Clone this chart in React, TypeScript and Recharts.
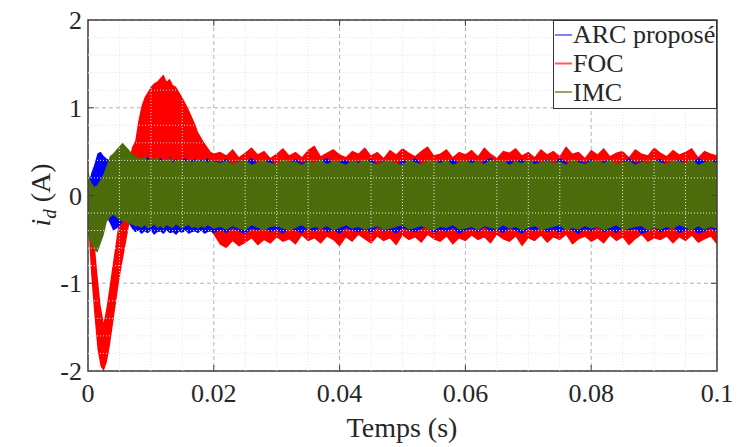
import {
  Area,
  CartesianGrid,
  ComposedChart,
  Label,
  ReferenceArea,
  ReferenceLine,
  XAxis,
  YAxis,
} from "recharts";

// time samples (s): 0.5 ms during the transient, 1 ms afterwards
const tTransient = [
  0, 0.0005, 0.001, 0.0015, 0.002, 0.0025, 0.003, 0.0035, 0.004, 0.0045, 0.005,
  0.0055, 0.006, 0.0065, 0.007, 0.0075, 0.008, 0.0085, 0.009, 0.0095, 0.01,
  0.0105, 0.011, 0.0115, 0.012, 0.0125, 0.013, 0.0135, 0.014, 0.0145, 0.015,
  0.0155, 0.016, 0.0165, 0.017, 0.0175, 0.018, 0.0185, 0.019, 0.0195, 0.02,
];
const tSteady = [
  0.021, 0.022, 0.023, 0.024, 0.025, 0.026, 0.027, 0.028, 0.029, 0.03,
  0.031, 0.032, 0.033, 0.034, 0.035, 0.036, 0.037, 0.038, 0.039, 0.04,
  0.041, 0.042, 0.043, 0.044, 0.045, 0.046, 0.047, 0.048, 0.049, 0.05,
  0.051, 0.052, 0.053, 0.054, 0.055, 0.056, 0.057, 0.058, 0.059, 0.06,
  0.061, 0.062, 0.063, 0.064, 0.065, 0.066, 0.067, 0.068, 0.069, 0.07,
  0.071, 0.072, 0.073, 0.074, 0.075, 0.076, 0.077, 0.078, 0.079, 0.08,
  0.081, 0.082, 0.083, 0.084, 0.085, 0.086, 0.087, 0.088, 0.089, 0.09,
  0.091, 0.092, 0.093, 0.094, 0.095, 0.096, 0.097, 0.098, 0.099, 0.1,
];

// envelope (min / max) of each noisy i_d trace
const arcLo = [
  -0.1, -0.2, -0.2, -0.15, -0.12, -0.15, -0.25, -0.32, -0.4, -0.38, -0.35, -0.3,
  -0.28, -0.32, -0.38, -0.42, -0.4, -0.44, -0.41, -0.43, -0.4, -0.45, -0.42,
  -0.41, -0.44, -0.4, -0.43, -0.42, -0.45, -0.41, -0.43, -0.4, -0.44, -0.42,
  -0.41, -0.43, -0.4, -0.44, -0.42, -0.41, -0.43,
  -0.39, -0.43, -0.37, -0.41, -0.44, -0.38, -0.4, -0.36, -0.42, -0.39,
  -0.44, -0.37, -0.4, -0.43, -0.38, -0.41, -0.36, -0.42, -0.39, -0.44,
  -0.37, -0.4, -0.42, -0.38, -0.43, -0.36, -0.41, -0.39, -0.44, -0.37,
  -0.4, -0.42, -0.38, -0.36, -0.43, -0.39, -0.41, -0.37, -0.44, -0.4,
  -0.38, -0.42, -0.36, -0.41, -0.39, -0.43, -0.37, -0.4, -0.44, -0.38,
  -0.41, -0.36, -0.42, -0.39, -0.43, -0.37, -0.4, -0.44, -0.38, -0.41,
  -0.36, -0.42, -0.39, -0.43, -0.37, -0.4, -0.38, -0.44, -0.41, -0.37,
  -0.42, -0.39, -0.36, -0.43, -0.4, -0.38, -0.44, -0.41, -0.37, -0.42,
];
const arcHi = [
  0.1, 0.25, 0.35, 0.48, 0.5, 0.45, 0.42, 0.4, 0.42, 0.4, 0.42, 0.45, 0.48,
  0.45, 0.44, 0.4, 0.43, 0.38, 0.41, 0.44, 0.39, 0.42, 0.37, 0.43, 0.4, 0.38,
  0.44, 0.39, 0.42, 0.37, 0.41, 0.43, 0.38, 0.4, 0.42, 0.37, 0.41, 0.39, 0.43,
  0.38, 0.4,
  0.38, 0.42, 0.35, 0.4, 0.37, 0.43, 0.36, 0.39, 0.41, 0.34,
  0.38, 0.36, 0.42, 0.37, 0.4, 0.35, 0.39, 0.43, 0.36, 0.38,
  0.41, 0.35, 0.39, 0.37, 0.42, 0.36, 0.4, 0.38, 0.34, 0.41,
  0.37, 0.43, 0.36, 0.39, 0.35, 0.4, 0.38, 0.42, 0.36, 0.37,
  0.41, 0.35, 0.39, 0.43, 0.37, 0.36, 0.4, 0.38, 0.42, 0.35,
  0.39, 0.37, 0.41, 0.36, 0.43, 0.38, 0.35, 0.4, 0.37, 0.42,
  0.36, 0.39, 0.41, 0.35, 0.38, 0.43, 0.37, 0.4, 0.36, 0.39,
  0.42, 0.35, 0.38, 0.41, 0.37, 0.36, 0.43, 0.39, 0.38, 0.42,
];
const focLo = [
  -0.3, -0.9, -1.35, -1.75, -1.95, -2.0, -1.9, -1.7, -1.45, -1.2, -0.95, -0.75,
  -0.55, -0.35, -0.2, -0.1, 0.0, 0.05, 0.1, 0.15, 0.18, 0.2, 0.22, 0.25, 0.25,
  0.22, 0.2, 0.18, 0.15, 0.1, 0.05, 0.0, -0.05, -0.1, -0.15, -0.2, -0.25, -0.3,
  -0.35, -0.4, -0.45,
  -0.56, -0.6, -0.52, -0.58, -0.54, -0.49, -0.57, -0.51, -0.55, -0.48,
  -0.53, -0.5, -0.56, -0.46, -0.52, -0.49, -0.55, -0.47, -0.51, -0.58,
  -0.48, -0.53, -0.45, -0.5, -0.55, -0.47, -0.52, -0.49, -0.57, -0.46,
  -0.51, -0.48, -0.54, -0.45, -0.5, -0.53, -0.47, -0.56, -0.49, -0.52,
  -0.46, -0.51, -0.48, -0.55, -0.45, -0.5, -0.53, -0.47, -0.58, -0.49,
  -0.52, -0.46, -0.54, -0.48, -0.51, -0.45, -0.56, -0.5, -0.47, -0.53,
  -0.49, -0.55, -0.46, -0.52, -0.48, -0.57, -0.5, -0.45, -0.53, -0.49,
  -0.51, -0.47, -0.55, -0.48, -0.52, -0.46, -0.54, -0.5, -0.47, -0.56,
];
const focHi = [
  0.1, -0.15, -0.5, -0.9, -1.25, -1.45, -1.25, -1.0, -0.75, -0.5, -0.25, 0.0,
  0.2, 0.4, 0.55, 0.62, 0.85, 1.02, 1.12, 1.18, 1.24, 1.28, 1.3, 1.34, 1.38,
  1.3, 1.33, 1.26, 1.24, 1.18, 1.12, 1.05, 0.98, 0.9, 0.82, 0.72, 0.66, 0.6,
  0.55, 0.5, 0.48,
  0.5, 0.46, 0.53, 0.44, 0.49, 0.55, 0.47, 0.51, 0.43, 0.48,
  0.54, 0.46, 0.5, 0.44, 0.52, 0.57, 0.45, 0.49, 0.53, 0.47,
  0.44, 0.51, 0.48, 0.55, 0.46, 0.5, 0.43, 0.52, 0.47, 0.54,
  0.49, 0.45, 0.51, 0.56, 0.46, 0.48, 0.53, 0.44, 0.5, 0.47,
  0.52, 0.45, 0.55, 0.48, 0.43, 0.51, 0.49, 0.54, 0.46, 0.5,
  0.44, 0.53, 0.47, 0.51, 0.45, 0.56, 0.48, 0.5, 0.43, 0.52,
  0.47, 0.54, 0.45, 0.49, 0.51, 0.44, 0.53, 0.48, 0.46, 0.55,
  0.49, 0.45, 0.52, 0.47, 0.5, 0.54, 0.44, 0.51, 0.48, 0.46,
];
const imcLo = [
  -0.45, -0.55, -0.62, -0.65, -0.55, -0.45, -0.3, -0.25, -0.22, -0.25, -0.28,
  -0.3, -0.3, -0.32, -0.33, -0.35, -0.35, -0.37, -0.34, -0.38, -0.36, -0.33,
  -0.37, -0.35, -0.38, -0.34, -0.36, -0.37, -0.33, -0.36, -0.38, -0.35, -0.34,
  -0.37, -0.36, -0.38, -0.35, -0.37, -0.34, -0.36, -0.38,
  -0.36, -0.39, -0.35, -0.38, -0.4, -0.34, -0.37, -0.39, -0.36, -0.35,
  -0.38, -0.4, -0.37, -0.34, -0.39, -0.36, -0.38, -0.35, -0.4, -0.37,
  -0.34, -0.38, -0.36, -0.39, -0.37, -0.35, -0.4, -0.38, -0.36, -0.34,
  -0.39, -0.37, -0.35, -0.38, -0.4, -0.36, -0.37, -0.34, -0.39, -0.38,
  -0.36, -0.4, -0.35, -0.37, -0.39, -0.34, -0.38, -0.36, -0.4, -0.37,
  -0.35, -0.39, -0.38, -0.36, -0.34, -0.4, -0.37, -0.39, -0.35, -0.38,
  -0.36, -0.4, -0.37, -0.34, -0.39, -0.38, -0.36, -0.35, -0.4, -0.37,
  -0.39, -0.36, -0.38, -0.34, -0.37, -0.4, -0.35, -0.39, -0.36, -0.38,
];
const imcHi = [
  0.28, 0.15, 0.1, 0.12, 0.18, 0.25, 0.35, 0.45, 0.48, 0.52, 0.56, 0.6, 0.56,
  0.52, 0.48, 0.45, 0.44, 0.42, 0.45, 0.4, 0.43, 0.41, 0.44, 0.39, 0.42, 0.4,
  0.43, 0.38, 0.41, 0.4, 0.42, 0.39, 0.41, 0.38, 0.4, 0.42, 0.39, 0.41, 0.38,
  0.4, 0.39,
  0.37, 0.4, 0.36, 0.39, 0.41, 0.35, 0.38, 0.4, 0.37, 0.36,
  0.41, 0.38, 0.39, 0.35, 0.4, 0.37, 0.41, 0.36, 0.39, 0.38,
  0.35, 0.4, 0.37, 0.41, 0.38, 0.36, 0.39, 0.4, 0.37, 0.35,
  0.41, 0.38, 0.36, 0.4, 0.39, 0.37, 0.41, 0.35, 0.38, 0.4,
  0.37, 0.39, 0.36, 0.41, 0.38, 0.4, 0.35, 0.39, 0.37, 0.41,
  0.36, 0.38, 0.4, 0.37, 0.39, 0.35, 0.41, 0.38, 0.36, 0.4,
  0.39, 0.37, 0.41, 0.36, 0.38, 0.4, 0.35, 0.39, 0.37, 0.41,
  0.38, 0.36, 0.4, 0.39, 0.37, 0.41, 0.35, 0.38, 0.4, 0.37,
];

const xTicks = [0, 0.02, 0.04, 0.06, 0.08, 0.1];
const xTickLabels = ["0", "0.02", "0.04", "0.06", "0.08", "0.1"];
const yTicks = [-2, -1, 0, 1, 2];
const yTickLabels = ["-2", "-1", "0", "1", "2"];
const xMinor = [
  0.005, 0.01, 0.015, 0.025, 0.03, 0.035, 0.045, 0.05, 0.055, 0.065, 0.07,
  0.075, 0.085, 0.09, 0.095,
];
const yMinor = [
  -1.8, -1.6, -1.4, -1.2, -0.8, -0.6, -0.4, -0.2, 0.2, 0.4, 0.6, 0.8, 1.2, 1.4,
  1.6, 1.8,
];

const arc = { name: "ARC proposé", color: "#0000ff", legend: "#8080ff", lo: arcLo, hi: arcHi };
const foc = { name: "FOC", color: "#ff0000", legend: "#ff5a5a", lo: focLo, hi: focHi };
const imc = { name: "IMC", color: "#4c6b0b", legend: "#8fa86a", lo: imcLo, hi: imcHi };
const legendOrder = [arc, foc, imc];
const drawOrder = [foc, arc, imc];

const tAll = [...tTransient, ...tSteady];
const toRows = (lo: number[], hi: number[]) =>
  tAll.map((t, i) => ({ t, band: [lo[i], hi[i]] }));

const FONT = '"Liberation Serif", "Times New Roman", serif';
const AXIS = "#404040";

const XTick = (props: any) => (
  <text
    x={props.x}
    y={props.y + 31}
    textAnchor="middle"
    fontFamily={FONT}
    fontSize={26}
    fill="#262626"
  >
    {xTickLabels[xTicks.indexOf(props.payload.value)]}
  </text>
);

const YTick = (props: any) => (
  <text
    x={props.x - 6}
    y={props.y + 9}
    textAnchor="end"
    fontFamily={FONT}
    fontSize={26}
    fill="#262626"
  >
    {yTickLabels[yTicks.indexOf(props.payload.value)]}
  </text>
);

const XTitle = () => (
  <text x={402} y={437} textAnchor="middle" fontFamily={FONT} fontSize={28} fill="#262626">
    Temps (s)
  </text>
);

const YTitle = () => (
  <text
    x={0}
    y={0}
    transform="translate(50 195) rotate(-90)"
    textAnchor="middle"
    fontFamily={FONT}
    fontSize={28}
    fill="#262626"
  >
    <tspan fontStyle="italic">i</tspan>
    <tspan fontStyle="italic" fontSize={19} dy={6}>
      d
    </tspan>
    <tspan dy={-6}> (A)</tspan>
  </text>
);

// inward tick lengths in data units (about 6 px)
const TX = 0.00095;
const TY = 0.068;

export default function App() {
  return (
    <div style={{ position: "absolute", left: 0, top: 0, width: 738, height: 447, background: "#fff" }}>
      <ComposedChart
        width={738}
        height={447}
        margin={{ top: 20, right: 21, bottom: 0, left: 0 }}
      >
        <CartesianGrid stroke="#b4b4b4" strokeDasharray="4 3" strokeWidth={1} />
        {xMinor.map((v) => (
          <ReferenceLine key={"gx" + v} x={v} stroke="#e4e4e4" strokeDasharray="1 2" />
        ))}
        {yMinor.map((v) => (
          <ReferenceLine key={"gy" + v} y={v} stroke="#e4e4e4" strokeDasharray="1 2" />
        ))}
        <XAxis
          type="number"
          dataKey="t"
          domain={[0, 0.1]}
          ticks={xTicks}
          allowDataOverflow
          height={76}
          tickSize={0}
          tickMargin={0}
          axisLine={false}
          tickLine={false}
          tick={<XTick />}
        >
          <Label content={<XTitle />} />
        </XAxis>
        <YAxis
          type="number"
          domain={[-2, 2]}
          ticks={yTicks}
          allowDataOverflow
          width={88}
          tickSize={0}
          tickMargin={0}
          axisLine={false}
          tickLine={false}
          tick={<YTick />}
        >
          <Label content={<YTitle />} />
        </YAxis>
        {drawOrder.map((s) => (
          <Area
            key={s.name}
            data={toRows(s.lo, s.hi)}
            dataKey="band"
            type="linear"
            stroke="none"
            fill={s.color}
            fillOpacity={1}
            isAnimationActive={false}
          />
        ))}
        {xTicks.slice(1, -1).map((v) => (
          <ReferenceLine key={"tb" + v} segment={[{ x: v, y: -2 }, { x: v, y: -2 + TY }]} stroke={AXIS} />
        ))}
        {xTicks.slice(1, -1).map((v) => (
          <ReferenceLine key={"tt" + v} segment={[{ x: v, y: 2 }, { x: v, y: 2 - TY }]} stroke={AXIS} />
        ))}
        {yTicks.slice(1, -1).map((v) => (
          <ReferenceLine key={"tl" + v} segment={[{ x: 0, y: v }, { x: TX, y: v }]} stroke={AXIS} />
        ))}
        {yTicks.slice(1, -1).map((v) => (
          <ReferenceLine key={"tr" + v} segment={[{ x: 0.1, y: v }, { x: 0.1 - TX, y: v }]} stroke={AXIS} />
        ))}
        <ReferenceArea x1={0} x2={0.1} y1={-2} y2={2} fill="none" stroke={AXIS} strokeWidth={1.5} />
      </ComposedChart>
      <div
        style={{
          position: "absolute",
          left: 553,
          top: 20,
          width: 164,
          height: 89,
          boxSizing: "border-box",
          border: "1.5px solid #333",
          background: "#fff",
          overflow: "hidden",
        }}
      >
        <svg width={164} height={89} style={{ display: "block", position: "absolute", left: -1.5, top: -1.5 }}>
          {legendOrder.map((s, i) => (
            <g key={s.name}>
              <line x1={2} x2={19} y1={15 + i * 28.5} y2={15 + i * 28.5} stroke={s.legend} strokeWidth={2} />
              <text x={20} y={23 + i * 29} fontFamily={FONT} fontSize={26} fill="#262626">
                {s.name}
              </text>
            </g>
          ))}
        </svg>
      </div>
    </div>
  );
}
